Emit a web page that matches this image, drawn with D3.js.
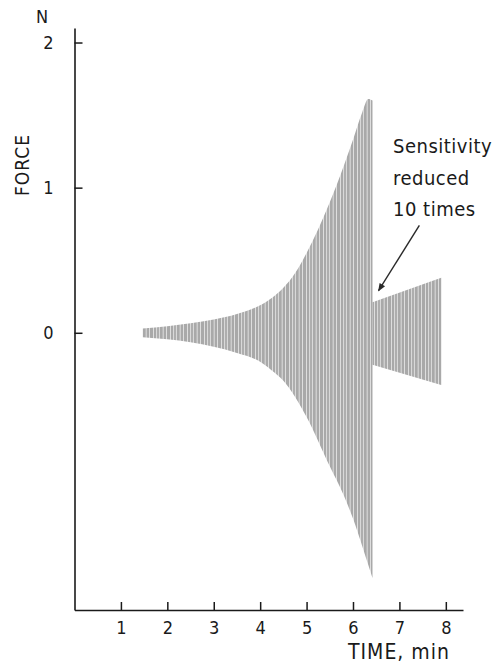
<!DOCTYPE html>
<html>
<head>
<meta charset="utf-8">
<script src="https://cdn.jsdelivr.net/npm/d3@7"></script>
<style>
  html, body { margin: 0; padding: 0; background: #fff; }
  svg { display: block; }
  text { font-family: "DejaVu Sans Condensed", "DejaVu Sans", sans-serif; fill: #1a1a1a; }
</style>
</head>
<body>
<svg id="chart" width="498" height="663"></svg>
<script>
// ---- data ----
// first record: growing oscillation (normal sensitivity)
const time1  = [1.47, 2.0, 2.5, 3.0, 3.5, 4.0, 4.25, 4.5, 4.75, 5.0, 5.5, 5.8, 6.0, 6.2, 6.33, 6.42];
const upper1 = [0.03, 0.045, 0.065, 0.092, 0.13, 0.19, 0.24, 0.31, 0.41, 0.55, 0.90, 1.15, 1.33, 1.52, 1.61, 1.60];
const lower1 = [-0.03, -0.045, -0.066, -0.097, -0.14, -0.20, -0.26, -0.33, -0.44, -0.58, -0.92, -1.12, -1.28, -1.47, -1.60, -1.69];
// second record: sensitivity reduced 10 times
const time2  = [6.42, 7.9];
const upper2 = [0.21, 0.38];
const lower2 = [-0.22, -0.36];

const xTicks = [1, 2, 3, 4, 5, 6, 7, 8];
const yTicks = [0, 1, 2];
const annotationLines = ["Sensitivity", "reduced", "10 times"];
const arrowFrom = [7.43, 0.74];
const arrowTo = [6.55, 0.29];

// ---- chart ----
const svg = d3.select("#chart");
const x = d3.scaleLinear().domain([0, 8.37]).range([74.5, 463]);
const y = d3.scaleLinear().domain([-1.91, 2.1]).range([610, 28]);

const defs = svg.append("defs");
const pat = defs.append("pattern")
  .attr("id", "osc").attr("patternUnits", "userSpaceOnUse")
  .attr("width", 17).attr("height", 20);
pat.append("rect").attr("width", 17).attr("height", 20).attr("fill", "#a9a9a9");
[0.5, 3.6, 6.4, 10.2, 13.5].forEach(px => {
  pat.append("line").attr("x1", px).attr("x2", px).attr("y1", 0).attr("y2", 20)
    .attr("stroke", "#e4e4e4").attr("stroke-width", 0.9);
});

const marker = defs.append("marker")
  .attr("id", "arrow").attr("viewBox", "0 0 10 10")
  .attr("refX", 9).attr("refY", 5)
  .attr("markerWidth", 16).attr("markerHeight", 8)
  .attr("markerUnits", "userSpaceOnUse")
  .attr("orient", "auto");
marker.append("path").attr("d", "M0,1 L10,5 L0,9 Z").attr("fill", "#2a2a2a");

function drawRecord(t, up, lo) {
  const data = t.map((d, i) => ({ t: d, u: up[i], l: lo[i] }));
  const area = d3.area()
    .x(d => x(d.t)).y0(d => y(d.l)).y1(d => y(d.u))
    .curve(d3.curveMonotoneX);
  svg.append("path").datum(data).attr("d", area).attr("fill", "url(#osc)");
}
drawRecord(time1, upper1, lower1);
drawRecord(time2, upper2, lower2);

// axes
const yAxis = d3.axisLeft(y).tickValues(yTicks).tickSizeInner(-8).tickSizeOuter(0).tickPadding(21)
  .tickFormat(d3.format("d"));
const gy = svg.append("g").attr("transform", `translate(${x(0)},0)`).call(yAxis);
const xAxis = d3.axisBottom(x).tickValues(xTicks).tickSizeInner(-8).tickSizeOuter(0).tickPadding(11)
  .tickFormat(d3.format("d"));
const gx = svg.append("g").attr("transform", `translate(0,${y(-1.91)})`).call(xAxis);

[gx, gy].forEach(g => {
  g.select(".domain").attr("stroke", "#1a1a1a").attr("stroke-width", 1.6);
  g.selectAll(".tick line").attr("stroke", "#1a1a1a").attr("stroke-width", 1.5);
  g.selectAll(".tick text").attr("font-size", 18).attr("fill", "#1a1a1a")
    .style("font-family", '"DejaVu Sans Condensed", "DejaVu Sans", sans-serif');
});

// axis titles
svg.append("text").attr("x", 42).attr("y", 23).attr("text-anchor", "middle")
  .attr("font-size", 18).text("N");
svg.append("text").attr("transform", "translate(29,165) rotate(-90)")
  .attr("text-anchor", "middle").attr("font-size", 19).attr("letter-spacing", 1).text("FORCE");
svg.append("text").attr("x", 450).attr("y", 659).attr("text-anchor", "end")
  .attr("font-size", 21).attr("letter-spacing", 1).text("TIME, min");

// annotation
annotationLines.forEach((s, i) => {
  svg.append("text").attr("x", 393).attr("y", 153 + i * 31.5)
    .attr("font-size", 20).attr("letter-spacing", 0.5).text(s);
});
svg.append("line")
  .attr("x1", x(arrowFrom[0])).attr("y1", y(arrowFrom[1]))
  .attr("x2", x(arrowTo[0])).attr("y2", y(arrowTo[1]))
  .attr("stroke", "#2a2a2a").attr("stroke-width", 1.4)
  .attr("marker-end", "url(#arrow)");
</script>
</body>
</html>
